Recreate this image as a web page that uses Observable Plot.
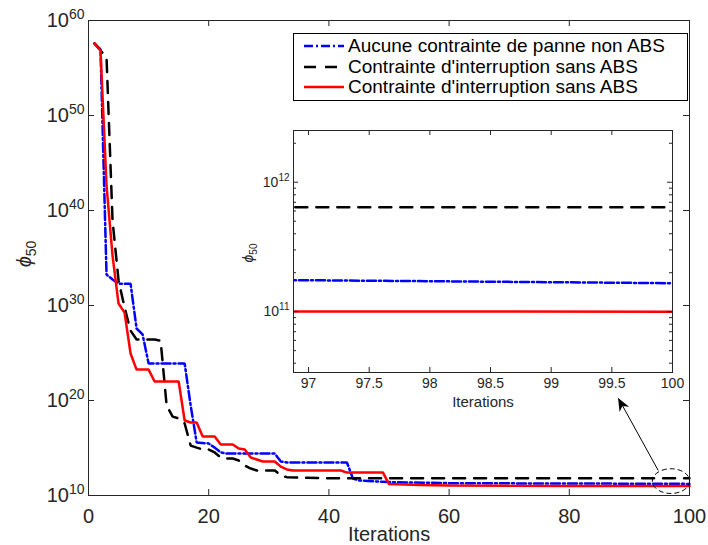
<!DOCTYPE html>
<html><head><meta charset="utf-8">
<script src="https://cdn.jsdelivr.net/npm/d3@7"></script>
<script src="https://cdn.jsdelivr.net/npm/@observablehq/plot@0.6"></script>
<style>
body{margin:0;background:#fff;}
#wrap{position:relative;width:708px;height:545px;font-family:"Liberation Sans",Arial,Helvetica,sans-serif;overflow:hidden;}
#wrap > svg{position:absolute;}
#legend{position:absolute;left:293px;top:33px;width:395px;height:68px;border:1px solid #000;background:#fff;box-sizing:border-box;}
.lrow{position:absolute;left:0;height:20px;width:100%;}
.lrow svg{position:absolute;left:9px;top:5px;}
.lrow span{position:absolute;left:54px;top:0;font-size:19px;line-height:20px;color:#000;white-space:nowrap;}
</style>
</head><body><div id="wrap"><div id="legend"></div></div>
<script>
// ---- data ----
const seriesNames = ["Aucune contrainte de panne non ABS", "Contrainte d'interruption sans ABS", "Contrainte d'interruption sans ABS"];

const blueIter = [1, 2, 3, 4, 5, 7, 8, 9, 10, 16, 17, 18, 20, 21, 22, 23, 31, 32, 33, 43, 44, 45, 50, 60, 80, 97, 100];
const blueVal  = [3.8e57, 8.9e56, 1.8e33, 5.5e32, 2.0e32, 2.0e32, 3.8e27, 8.9e26, 7.9e23, 7.9e23, 3.0e19, 3.8e15, 3.0e15, 1.1e15, 3.4e14, 2.6e14, 2.6e14, 3.8e13, 3.0e13, 3.0e13, 6.2e11, 3.8e11, 2.6e11, 2.0e11, 1.8e11, 1.75e11, 1.66e11];

const blackIter = [1, 2, 3, 4, 5, 6, 7, 8, 11, 12, 13, 14, 15, 16, 17, 18, 19, 20, 21, 22, 23, 24, 25, 26, 27, 28, 31, 32, 33, 35, 40, 50, 100];
const blackVal  = [3.8e57, 6.9e56, 1.3e56, 8.9e38, 4.3e32, 6.2e29, 2.3e27, 2.6e26, 2.6e26, 2.0e26, 3.0e19, 2.0e18, 1.3e18, 3.8e17, 1.8e15, 1.1e15, 6.9e14, 6.9e14, 3.4e14, 1.0e14, 7.8e13, 7.8e13, 4.8e13, 1.4e13, 6.9e12, 4.3e12, 4.3e12, 1.3e12, 8.5e11, 7.5e11, 6.6e11, 6.4e11, 6.4e11];

const redIter = [1, 2, 3, 4, 5, 6, 7, 8, 10, 11, 15, 16, 17, 18, 19, 21, 22, 24, 25, 26, 27, 28, 29, 31, 32, 33, 34, 42, 43, 49, 50, 55, 60, 70, 80, 100];
const redVal  = [3.8e57, 6.9e56, 4.3e42, 1.8e35, 1.6e30, 1.8e29, 8.9e24, 1.8e23, 1.8e23, 1.0e22, 1.0e22, 7.8e17, 4.8e17, 4.8e17, 1.6e16, 1.6e16, 2.3e15, 2.3e15, 8.9e14, 6.9e14, 1.0e14, 6.2e13, 3.8e13, 3.8e13, 1.1e13, 5.5e12, 4.3e12, 4.3e12, 2.6e12, 2.6e12, 1.6e11, 1.3e11, 1.15e11, 1.05e11, 1.02e11, 1.0e11];

const xTicks = [0, 20, 40, 60, 80, 100];
const yTicks = [1e10, 1e20, 1e30, 1e40, 1e50, 1e60];
const insetXTicks = [97, 97.5, 98, 98.5, 99, 99.5, 100];
const insetYTicks = [1e11, 1e12];
const insetYMinor = [4e10, 5e10, 6e10, 7e10, 8e10, 9e10, 2e11, 3e11, 4e11, 5e11, 6e11, 7e11, 8e11, 9e11, 2e12];

// annotation (data coordinates of the main axes)
const arrowFrom = [94.8, 4.3e12];
const arrowTo = [88.2, 1.6e20];
const ellipseCenter = [97.0, 2.9e11];
const ellipseRadius = [3.1, 1.3]; // iterations, decades

// ---- styles ----
const styles = [
  {color: "#0000ff", dash: "9,3,2,3"},
  {color: "#000000", dash: "12,9"},
  {color: "#ff0000", dash: null}
];
const rows = [
  blueIter.map((x, i) => ({s: 0, x, y: blueVal[i]})),
  blackIter.map((x, i) => ({s: 1, x, y: blackVal[i]})),
  redIter.map((x, i) => ({s: 2, x, y: redVal[i]}))
];
const FONT = '"Liberation Sans",Arial,Helvetica,sans-serif';
const AX = "#262626";

function lineMarks(clip) {
  return rows.map((r, k) => Plot.line(r, {x: "x", y: "y", stroke: styles[k].color, strokeWidth: 2.5,
    strokeDasharray: styles[k].dash || undefined, strokeLinejoin: "miter", clip}));
}

function supTicks(svg, base, sup) {
  d3.select(svg).selectAll('g[aria-label="y-axis tick label"] text').each(function () {
    const t = d3.select(this);
    const parts = t.text().split("^");
    t.text(null);
    t.append("tspan").attr("font-size", base).text(parts[0]);
    t.append("tspan").attr("font-size", sup).attr("dy", "-0.6em").text(parts[1]);
  });
}

// ---- main plot ----
const W = 708, H = 545, mL = 88, mR = 19, mT = 20, mB = 50;
const fw = W - mL - mR, fh = H - mT - mB;
const main = Plot.plot({
  width: W, height: H, marginLeft: mL, marginRight: mR, marginTop: mT, marginBottom: mB,
  style: {fontFamily: FONT, fontSize: "20px", color: AX, background: "transparent", overflow: "visible"},
  x: {domain: [0, 100]},
  y: {type: "log", domain: [1e10, 1e60]},
  marks: [
    ...lineMarks(false),
    Plot.frame({stroke: AX, strokeWidth: 1}),
    Plot.tickX(xTicks, {x: d => d, insetTop: fh - 6, stroke: AX}),
    Plot.tickX(xTicks, {x: d => d, insetBottom: fh - 6, stroke: AX}),
    Plot.tickY(yTicks, {y: d => d, insetRight: fw - 6, stroke: AX}),
    Plot.tickY(yTicks, {y: d => d, insetLeft: fw - 6, stroke: AX}),
    Plot.axisX({ticks: xTicks, tickSize: 0, tickPadding: 13, label: null, fontSize: 20, fill: AX}),
    Plot.axisY({ticks: yTicks, tickSize: 0, tickPadding: 4, label: null, fontSize: 20, fill: AX,
      tickFormat: d => "10^" + Math.round(Math.log10(d))}),
    Plot.text(["Iterations"], {frameAnchor: "bottom", dy: 39, fontSize: 20, fill: AX, lineAnchor: "middle"}),
    Plot.link([0], {x1: () => arrowFrom[0], y1: () => arrowFrom[1], x2: () => arrowTo[0], y2: () => arrowTo[1],
      stroke: "#000", strokeWidth: 1})
  ]
});
supTicks(main, 20, 14);
{
  const sx = main.scale("x"), sy = main.scale("y");
  const g = d3.select(main);
  // y label
  const yl = g.append("text").attr("transform", "translate(31,254) rotate(-90)")
    .attr("text-anchor", "middle").attr("font-size", 20).attr("fill", AX);
  yl.append("tspan").attr("font-style", "italic").text("ϕ");
  yl.append("tspan").attr("font-size", 14).attr("dy", "0.35em").text("50");
  // ellipse
  const cx = sx.apply(ellipseCenter[0]), cy = sy.apply(ellipseCenter[1]);
  const rx = sx.apply(ellipseCenter[0] + ellipseRadius[0]) - cx;
  const ry = cy - sy.apply(ellipseCenter[1] * Math.pow(10, ellipseRadius[1]));
  g.append("ellipse").attr("cx", cx).attr("cy", cy).attr("rx", rx).attr("ry", ry)
    .attr("fill", "none").attr("stroke", "#000").attr("stroke-width", 1).attr("stroke-dasharray", "5,3");
  // arrow head
  const x1 = sx.apply(arrowFrom[0]), y1 = sy.apply(arrowFrom[1]);
  const x2 = sx.apply(arrowTo[0]), y2 = sy.apply(arrowTo[1]);
  const a = Math.atan2(y2 - y1, x2 - x1);
  const L = 13, Wd = 5.5, back = 9;
  const ux = Math.cos(a), uy = Math.sin(a), px = -uy, py = ux;
  const pts = [
    [x2, y2],
    [x2 - L * ux + Wd * px, y2 - L * uy + Wd * py],
    [x2 - back * ux, y2 - back * uy],
    [x2 - L * ux - Wd * px, y2 - L * uy - Wd * py]
  ];
  g.append("path").attr("d", "M" + pts.map(p => p.join(",")).join("L") + "Z").attr("fill", "#000");
}
main.style.left = "0px"; main.style.top = "0px";
document.getElementById("wrap").prepend(main);

// ---- inset ----
const IL = 232, IT = 125, IW = 448, IH = 290, iL = 61, iR = 8, iT = 5, iB = 43;
const ifw = IW - iL - iR, ifh = IH - iT - iB;
const inset = Plot.plot({
  width: IW, height: IH, marginLeft: iL, marginRight: iR, marginTop: iT, marginBottom: iB,
  style: {fontFamily: FONT, fontSize: "14px", color: AX, background: "transparent", overflow: "visible"},
  x: {domain: [96.876, 100]},
  y: {type: "log", domain: [3.39e10, 2.51e12]},
  marks: [
    Plot.frame({fill: "#fff"}),
    ...lineMarks(true),
    Plot.frame({stroke: AX, strokeWidth: 1}),
    Plot.tickX(insetXTicks, {x: d => d, insetTop: ifh - 5, stroke: AX}),
    Plot.tickX(insetXTicks, {x: d => d, insetBottom: ifh - 5, stroke: AX}),
    Plot.tickY(insetYTicks, {y: d => d, insetRight: ifw - 5, stroke: AX}),
    Plot.tickY(insetYTicks, {y: d => d, insetLeft: ifw - 5, stroke: AX}),
    Plot.tickY(insetYMinor, {y: d => d, insetRight: ifw - 3, stroke: AX}),
    Plot.tickY(insetYMinor, {y: d => d, insetLeft: ifw - 3, stroke: AX}),
    Plot.axisX({ticks: insetXTicks, tickSize: 0, tickPadding: 6, label: null, fontSize: 14, fill: AX,
      tickFormat: d => String(d)}),
    Plot.axisY({ticks: insetYTicks, tickSize: 0, tickPadding: 4, label: null, fontSize: 14, fill: AX,
      tickFormat: d => "10^" + Math.round(Math.log10(d))}),
    Plot.text(["Iterations"], {frameAnchor: "bottom", dy: 30, fontSize: 15, fill: AX, lineAnchor: "middle"})
  ]
});
supTicks(inset, 14, 10);
{
  const yl = d3.select(inset).append("text").attr("transform", `translate(${iL - 40},${iT + ifh / 2 + 2}) rotate(-90)`)
    .attr("text-anchor", "middle").attr("font-size", 14).attr("fill", AX);
  yl.append("tspan").attr("font-style", "italic").text("ϕ");
  yl.append("tspan").attr("font-size", 10).attr("dy", "0.35em").text("50");
}
inset.style.left = IL + "px"; inset.style.top = IT + "px";
document.getElementById("wrap").appendChild(inset);

// ---- legend ----
const legend = d3.select("#legend");
seriesNames.forEach((name, k) => {
  const row = legend.append("div").attr("class", "lrow").style("top", (2 + k * 20.5) + "px");
  const s = row.append("svg").attr("width", 42).attr("height", 10);
  s.append("line").attr("x1", 1).attr("x2", 41).attr("y1", 5).attr("y2", 5)
    .attr("stroke", styles[k].color).attr("stroke-width", 2.5)
    .attr("stroke-dasharray", styles[k].dash);
  row.append("span").text(name);
});
document.getElementById("wrap").appendChild(document.getElementById("legend"));
</script>
</body></html>
